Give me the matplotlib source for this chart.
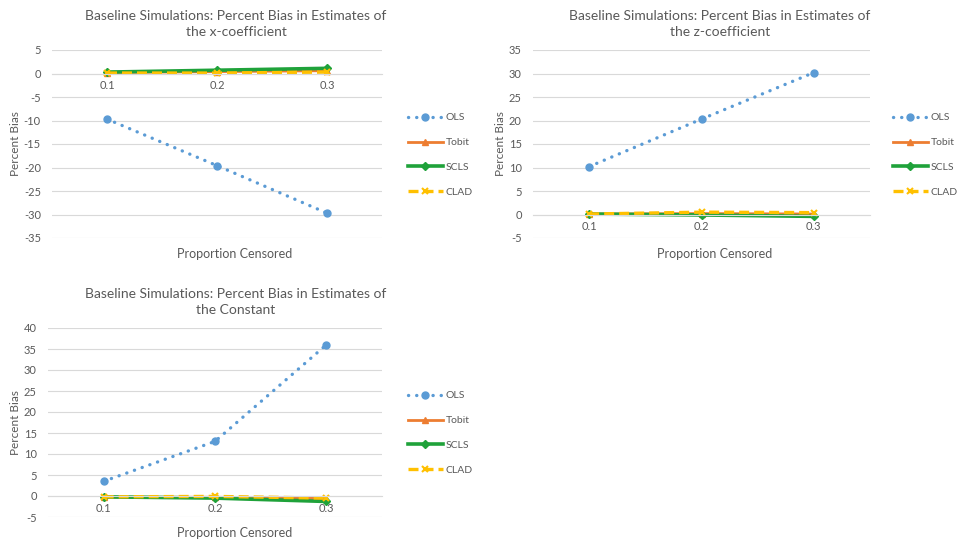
import numpy as np
import matplotlib.pyplot as plt

# datos
categorias = ["0.1", "0.2", "0.3"]
series = ["OLS", "Tobit", "SCLS", "CLAD"]

# x-coefficient
x_ols = [-9.7, -19.6, -29.7]
x_tobit = [0.2, 0.4, 0.6]
x_scls = [0.3, 0.7, 1.1]
x_clad = [0.1, 0.1, 0.3]

# z-coefficient
z_ols = [10.2, 20.3, 30.2]
z_tobit = [0.1, 0.2, 0.1]
z_scls = [0.1, -0.1, -0.4]
z_clad = [0.1, 0.5, 0.4]

# constante
c_ols = [3.5, 13.0, 36.0]
c_tobit = [-0.3, -0.3, -0.6]
c_scls = [-0.2, -0.5, -1.3]
c_clad = [-0.2, -0.1, -0.5]

titulos = ["Baseline Simulations: Percent Bias in Estimates of\nthe x-coefficient",
           "Baseline Simulations: Percent Bias in Estimates of\nthe z-coefficient",
           "Baseline Simulations: Percent Bias in Estimates of\nthe Constant"]

plt.rcParams['font.family'] = ['Lato', 'DejaVu Sans']
gris = "#595959"
W, H = 960, 543

estilos = {
    "OLS": dict(color="#5B9BD5", linestyle=(0, (0.05, 2.4)), lw=2.4, marker="o", ms=5,
                dash_capstyle="round"),
    "Tobit": dict(color="#ED7D31", linestyle="-", lw=2.0, marker="^", ms=5),
    "SCLS": dict(color="#1FA23A", linestyle="-", lw=2.6, marker="D", ms=4),
    "CLAD": dict(color="#FFC000", linestyle=(0, (3, 1.5)), lw=2.4, marker="x", ms=5, mew=1.5),
}

paneles = [
    # (datos, ylim, yticks, caja en pixeles, leyenda x/y, titulo x/y, xlabel x/y)
    ([x_ols, x_tobit, x_scls, x_clad], (-35, 5), np.arange(-35, 6, 5),
     (52, 50, 382, 238), 401, 155, 236, 24, 235, 254),
    ([z_ols, z_tobit, z_scls, z_clad], (-5, 35), np.arange(-5, 36, 5),
     (533, 50, 870, 238), 886, 155, 720, 24, 715, 254),
    ([c_ols, c_tobit, c_scls, c_clad], (-5, 40), np.arange(-5, 41, 5),
     (48, 328, 382, 517), 401, 433, 236, 302, 235, 533),
]

fig = plt.figure(figsize=(W / 100, H / 100), dpi=100)
x = np.arange(len(categorias))

for i, (datos, ylim, yticks, caja, lx, ly, tx, ty, xlx, xly) in enumerate(paneles):
    l, t, r, b = caja
    ax = fig.add_axes([l / W, 1 - b / H, (r - l) / W, (b - t) / H])
    # primero muevo el eje x al cero (esto resetea los ticks)
    for s in ["top", "right", "left"]:
        ax.spines[s].set_visible(False)
    ax.spines["bottom"].set_position(("data", 0))
    ax.spines["bottom"].set_color("#D9D9D9")
    for nombre, vals in zip(series, datos):
        ax.plot(x, vals, label=nombre, **estilos[nombre])
    ax.set_xlim(-0.5, 2.5)
    ax.set_ylim(*ylim)
    ax.set_yticks(yticks)
    ax.set_yticklabels([str(v) for v in yticks], fontsize=8, color=gris)
    ax.set_xticks(x)
    ax.set_xticklabels(categorias, fontsize=8, color=gris)
    ax.tick_params(axis="both", length=0)
    ax.tick_params(axis="y", pad=8)
    ax.tick_params(axis="x", pad=5)
    ax.grid(axis="y", color="#D9D9D9", lw=0.8)
    ax.set_axisbelow(True)
    ax.set_ylabel("Percent Bias", fontsize=8.5, color=gris, labelpad=2)
    fig.text(tx / W, 1 - ty / H, titulos[i], ha="center", va="center",
             fontsize=10, color=gris, linespacing=1.3)
    fig.text(xlx / W, 1 - xly / H, "Proportion Censored", ha="center", va="center",
             fontsize=9, color=gris)
    ax.legend(loc="center left", bbox_to_anchor=(lx / W, 1 - ly / H),
              bbox_transform=fig.transFigure, frameon=False, fontsize=7.5,
              labelcolor=gris, handlelength=3.3, labelspacing=1.5, handletextpad=0.3,
              borderpad=0.2)

plt.savefig("out.png", dpi=100)
